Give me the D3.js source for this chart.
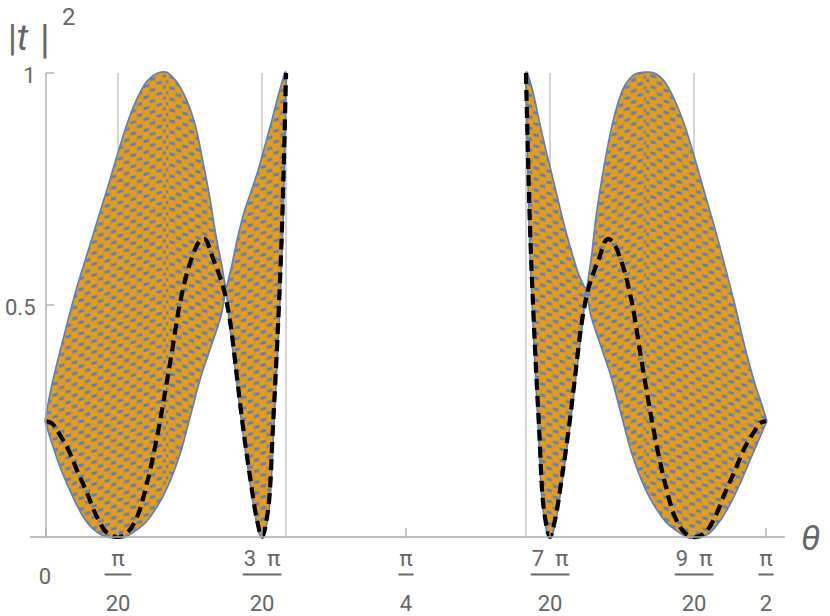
<!DOCTYPE html>
<html><head><meta charset="utf-8">
<script src="https://cdn.jsdelivr.net/npm/d3@7"></script>
<style>
body{margin:0;background:#fff}
svg{display:block}
text{font-family:Roboto,"Liberation Sans",sans-serif;fill:#666}
</style>
</head><body>
<svg id="c" width="830" height="616"></svg>
<script>
// theta in units of pi, value = |t|^2
const leftUpper = [[0.0000,0.250],[0.0035,0.310],[0.0083,0.375],[0.0153,0.460],[0.0222,0.540],[0.0292,0.610],[0.0361,0.680],[0.0431,0.750],[0.0500,0.822],[0.0569,0.890],[0.0639,0.945],[0.0708,0.982],[0.0778,0.998],[0.0833,1.000],[0.0889,0.985],[0.0958,0.950],[0.1028,0.890],[0.1083,0.810],[0.1132,0.730],[0.1174,0.650],[0.1215,0.585],[0.1250,0.535],[0.1292,0.580],[0.1333,0.640],[0.1382,0.700],[0.1431,0.745],[0.1479,0.790],[0.1528,0.845],[0.1576,0.900],[0.1618,0.950],[0.1663,1.000]];
const leftLower = [[0.0000,0.250],[0.0049,0.200],[0.0118,0.140],[0.0188,0.090],[0.0257,0.048],[0.0326,0.020],[0.0396,0.005],[0.0465,0.000],[0.0535,0.000],[0.0604,0.012],[0.0694,0.035],[0.0792,0.080],[0.0861,0.125],[0.0931,0.185],[0.1000,0.265],[0.1069,0.345],[0.1139,0.410],[0.1208,0.475],[0.1250,0.535],[0.1278,0.465],[0.1326,0.345],[0.1368,0.237],[0.1417,0.129],[0.1465,0.037],[0.1500,0.000],[0.1542,0.058],[0.1576,0.237],[0.1611,0.453],[0.1639,0.668],[0.1663,1.000]];
const rightUpper = [[0.3337,1.000],[0.3375,0.960],[0.3424,0.890],[0.3472,0.825],[0.3528,0.755],[0.3590,0.675],[0.3653,0.605],[0.3701,0.560],[0.3750,0.535],[0.3785,0.585],[0.3826,0.690],[0.3882,0.800],[0.3951,0.905],[0.4021,0.970],[0.4090,0.995],[0.4167,1.000],[0.4222,0.998],[0.4292,0.980],[0.4361,0.940],[0.4431,0.885],[0.4500,0.815],[0.4569,0.740],[0.4639,0.665],[0.4708,0.585],[0.4778,0.500],[0.4847,0.410],[0.4917,0.330],[0.4965,0.285],[0.5000,0.250]];
const rightLower = [[0.3337,1.000],[0.3361,0.668],[0.3389,0.453],[0.3424,0.237],[0.3458,0.058],[0.3500,0.000],[0.3535,0.037],[0.3583,0.129],[0.3632,0.237],[0.3674,0.345],[0.3722,0.465],[0.3750,0.535],[0.3792,0.475],[0.3861,0.410],[0.3931,0.345],[0.4000,0.265],[0.4069,0.185],[0.4139,0.125],[0.4208,0.080],[0.4306,0.035],[0.4396,0.012],[0.4465,0.000],[0.4535,0.000],[0.4604,0.010],[0.4674,0.035],[0.4743,0.070],[0.4813,0.115],[0.4882,0.165],[0.4951,0.215],[0.5000,0.250]];
const leftDashed = [[0.0000,0.250],[0.0042,0.245],[0.0076,0.230],[0.0146,0.194],[0.0215,0.144],[0.0285,0.095],[0.0354,0.043],[0.0424,0.009],[0.0500,0.000],[0.0563,0.009],[0.0632,0.043],[0.0701,0.116],[0.0771,0.215],[0.0826,0.310],[0.0875,0.400],[0.0931,0.505],[0.1000,0.590],[0.1069,0.638],[0.1104,0.642],[0.1160,0.600],[0.1229,0.540],[0.1278,0.465],[0.1326,0.345],[0.1368,0.237],[0.1417,0.129],[0.1465,0.037],[0.1500,0.000],[0.1542,0.058],[0.1576,0.237],[0.1611,0.453],[0.1639,0.668],[0.1667,1.000]];
const rightDashed = [[0.3333,1.000],[0.3361,0.668],[0.3389,0.453],[0.3424,0.237],[0.3458,0.058],[0.3500,0.000],[0.3535,0.037],[0.3583,0.129],[0.3632,0.237],[0.3674,0.345],[0.3722,0.465],[0.3771,0.540],[0.3840,0.600],[0.3896,0.642],[0.3931,0.638],[0.4000,0.590],[0.4069,0.505],[0.4125,0.400],[0.4174,0.310],[0.4229,0.215],[0.4299,0.116],[0.4368,0.043],[0.4437,0.009],[0.4500,0.000],[0.4576,0.009],[0.4646,0.043],[0.4715,0.095],[0.4785,0.144],[0.4854,0.194],[0.4924,0.230],[0.4958,0.245],[0.5000,0.250]];
// texture direction segments: [from, to, direction(+1 rising, -1 falling)]
const hatchSegments = [[0, 0.0833, 1], [0.0833, 0.125, -1], [0.125, 0.1667, 1], [0.3333, 0.375, -1], [0.375, 0.4167, 1], [0.4167, 0.5, -1]];
const gridTheta = [0.05, 0.15, 1/6, 1/3, 0.35, 0.45];
const tickTheta = [0, 0.05, 0.15, 0.25, 0.35, 0.45, 0.5];
const tickNum = ["0", "π", "3\u2002π", "π", "7\u2002π", "9\u2002π", "π"];
const tickDen = ["", "20", "20", "4", "20", "20", "2"];
const yTicks = [1, 0.5];
const yTickLabels = ["1", "0.5"];

const BLUE = "#5E81B5", ORANGE = "#E19C24", AX = "#a8a8a8", GRID = "#d0d0d0";
const svg = d3.select("#c");
const x = d3.scaleLinear().domain([0, 0.5]).range([46, 766]);
const y = d3.scaleLinear().domain([0, 1]).range([537, 73]);

// patterns imitating the dense oscillation texture
const defs = svg.append("defs");
function makePattern(id, skew) {
  const pat = defs.append("pattern").attr("id", id).attr("patternUnits", "userSpaceOnUse")
    .attr("width", 13).attr("height", 11).attr("patternTransform", `skewY(${skew})`);
  pat.append("rect").attr("width", 13).attr("height", 11).attr("fill", ORANGE);
  pat.append("rect").attr("x", 0.6).attr("y", 0).attr("width", 5.2).attr("height", 3).attr("fill", BLUE);
  pat.append("rect").attr("x", 7.1).attr("y", 5.5).attr("width", 5.2).attr("height", 3).attr("fill", BLUE);
  pat.append("rect").attr("x", 6.1).attr("y", 0).attr("width", 0.8).attr("height", 11).attr("fill", "#c98a1d").attr("opacity", 0.6);
  pat.append("rect").attr("x", 12.5).attr("y", 0).attr("width", 0.5).attr("height", 11).attr("fill", "#c98a1d").attr("opacity", 0.6);
}
makePattern("texUp", -14);
makePattern("texDown", 14);
hatchSegments.forEach((s, i) => {
  defs.append("clipPath").attr("id", "seg" + i).append("rect")
    .attr("x", x(s[0])).attr("width", x(s[1]) - x(s[0]) + 0.3).attr("y", 0).attr("height", 616);
});

// gridlines
svg.append("g").selectAll("line").data(gridTheta).join("line")
  .attr("x1", d => x(d)).attr("x2", d => x(d)).attr("y1", y(1)).attr("y2", y(0))
  .attr("stroke", GRID).attr("stroke-width", 1.8);

// band
const poly = d3.line().x(d => x(d[0])).y(d => y(d[1])).curve(d3.curveCatmullRomClosed.alpha(0.5));
const bands = [leftUpper.concat(leftLower.slice().reverse()), rightUpper.concat(rightLower.slice().reverse())];
const bg = svg.append("g");
bands.forEach(b => {
  bg.append("path").attr("d", poly(b)).attr("fill", BLUE).attr("stroke", BLUE)
    .attr("stroke-width", 3.4).attr("stroke-linejoin", "round");
});
hatchSegments.forEach((s, i) => {
  const b = s[0] < 0.25 ? bands[0] : bands[1];
  bg.append("path").attr("d", poly(b)).attr("clip-path", `url(#seg${i})`)
    .attr("fill", s[2] > 0 ? "url(#texUp)" : "url(#texDown)");
});

// dashed curve
const line = d3.line().x(d => x(d[0])).y(d => y(d[1])).curve(d3.curveCatmullRom.alpha(0.5));
[leftDashed, rightDashed].forEach(s => {
  svg.append("path").attr("d", line(s)).attr("fill", "none").attr("stroke", "#000")
    .attr("stroke-width", 4.2).attr("stroke-dasharray", "11,6");
});

// axes
svg.append("line").attr("x1", 30).attr("x2", 785).attr("y1", y(0)).attr("y2", y(0))
  .attr("stroke", AX).attr("stroke-width", 1.3);
svg.append("line").attr("x1", x(0)).attr("x2", x(0)).attr("y1", y(1)).attr("y2", y(0))
  .attr("stroke", AX).attr("stroke-width", 1.3);
svg.append("g").selectAll("line").data(yTicks).join("line")
  .attr("x1", x(0)).attr("x2", x(0) + 8).attr("y1", d => y(d)).attr("y2", d => y(d))
  .attr("stroke", AX).attr("stroke-width", 1.3);
svg.append("g").selectAll("line").data(tickTheta).join("line")
  .attr("x1", d => x(d)).attr("x2", d => x(d)).attr("y1", y(0)).attr("y2", y(0) - 9)
  .attr("stroke", AX).attr("stroke-width", 1.3);

// y tick labels
svg.append("g").selectAll("text").data(yTicks).join("text")
  .attr("x", 35.5).attr("y", d => y(d) + 10).attr("text-anchor", "end")
  .attr("font-size", 22).text((d, i) => yTickLabels[i]);

// x tick labels (fractions)
tickTheta.forEach((t, i) => {
  const g = svg.append("g").attr("transform", `translate(${x(t)},0)`);
  if (!tickDen[i]) {
    g.append("text").attr("x", -1).attr("y", 584).attr("text-anchor", "middle").attr("font-size", 22).text(tickNum[i]);
    return;
  }
  const n = g.append("text").attr("x", 0).attr("y", 566).attr("text-anchor", "middle").attr("font-size", 22).text(tickNum[i]);
  const dn = g.append("text").attr("x", 0).attr("y", 611).attr("text-anchor", "middle").attr("font-size", 22).text(tickDen[i]);
  const w = Math.max(n.node().getComputedTextLength(), dn.node().getComputedTextLength()) + 2;
  g.append("line").attr("x1", -w / 2).attr("x2", w / 2).attr("y1", 574.5).attr("y2", 574.5)
    .attr("stroke", "#666").attr("stroke-width", 2);
});

// axis labels
const yl = svg.append("text").attr("x", 8).attr("y", 50).attr("font-size", 36);
yl.append("tspan").text("|");
yl.append("tspan").attr("font-style", "italic").text("t");
svg.append("text").attr("x", 40).attr("y", 53).attr("font-size", 40).text("|");
svg.append("text").attr("x", 62).attr("y", 25).attr("font-size", 24).text("2");
svg.append("text").attr("x", 801).attr("y", 550).attr("font-size", 35).attr("font-style", "italic").text("θ");
</script>
</body></html>
